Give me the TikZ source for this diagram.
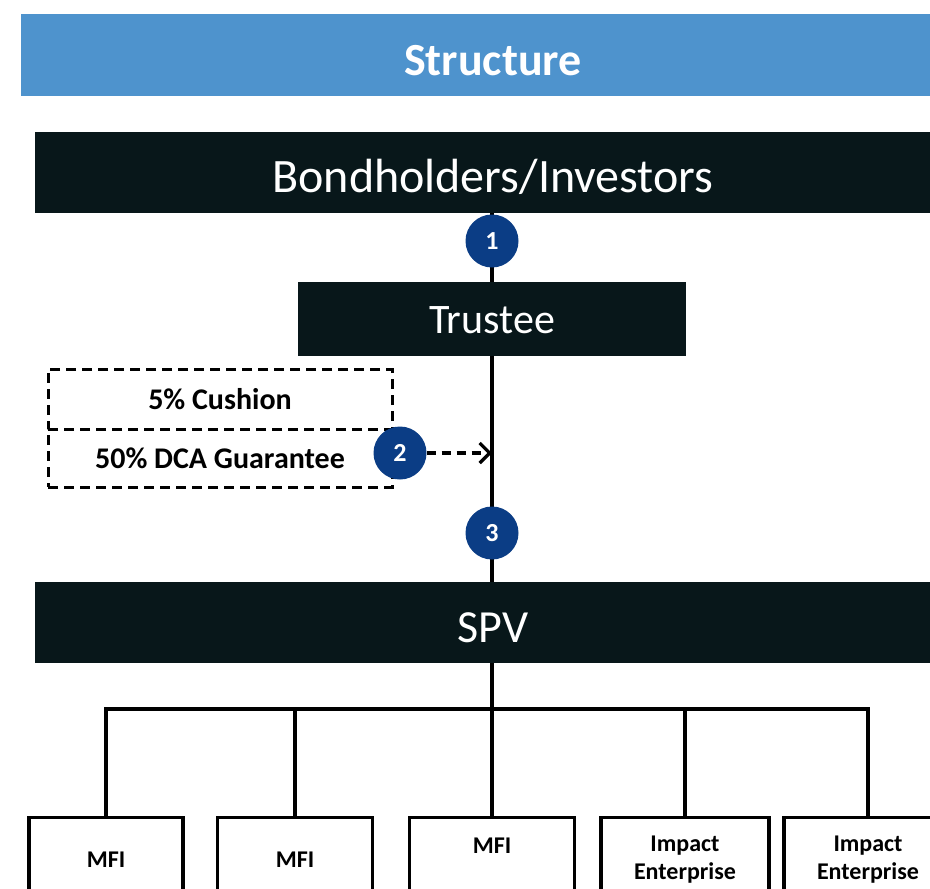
\documentclass[tikz,border=0pt]{standalone}
\usepackage{fontspec}
\setmainfont{Carlito}
\usetikzlibrary{arrows.meta}
\definecolor{barblue}{HTML}{4E93CD}
\definecolor{boxdark}{HTML}{08171A}
\definecolor{stepblue}{HTML}{0B3D85}
% text set on a baseline lowered by #1 below the node centre
\newcommand{\lowered}[2]{\raisebox{-#1}[0pt][0pt]{#2}}
\tikzset{
  x=1pt, y=-1pt,
  titlebar/.style={fill=barblue, text=white, font=\bfseries\fontsize{46}{50}\selectfont,
    minimum width=944, minimum height=82, inner sep=0},
  darkbar/.style={fill=boxdark, text=white, inner sep=0},
  numdot/.style={circle, fill=stepblue, text=white, minimum size=53, inner sep=0,
    font=\bfseries\fontsize{26}{28}\selectfont},
  dashbox/.style={draw=black, dashed, dash pattern=on 10pt off 6pt, line width=3pt,
    minimum width=344, inner sep=0, font=\bfseries\fontsize{30}{32}\selectfont},
  leafbox/.style={draw=black, line width=3.2pt, anchor=north, minimum height=84,
    inner sep=0, align=center, font=\bfseries\fontsize{24}{28}\selectfont},
  link/.style={draw=black, line width=3.2pt}
}
\begin{document}
\begin{tikzpicture}
\useasboundingbox (0,0) rectangle (930,889);
\clip (0,0) rectangle (930,889);

% header and main parties
\node[titlebar] (title) at (493,55) {\lowered{20pt}{Structure}};
\node[darkbar, minimum width=916, minimum height=81,
      font=\fontsize{48}{52}\selectfont] (bond) at (493,172.5) {\lowered{19.5pt}{Bondholders/Investors}};
\node[darkbar, minimum width=388, minimum height=74,
      font=\fontsize{42}{46}\selectfont] (trustee) at (492,319) {\lowered{14pt}{Trustee}};
\node[darkbar, minimum width=916, minimum height=81,
      font=\fontsize{46}{50}\selectfont] (spv) at (493,622.5) {\lowered{19.5pt}{SPV}};

% credit enhancement
\node[dashbox, minimum height=60] (cushion) at (220,399) {5\% Cushion};
\node[dashbox, minimum height=58] (dca) at (220,458) {50\% DCA Guarantee};

% borrowers
\node[leafbox, minimum width=154] (m1) at (106,816) {MFI};
\node[leafbox, minimum width=155] (m2) at (295,816) {MFI};
\node[leafbox, minimum width=165] (m3) at (492,816) {MFI\\~};
\node[leafbox, minimum width=168] (ie1) at (685,816) {Impact\\Enterprise};
\node[leafbox, minimum width=168] (ie2) at (868,816) {Impact\\Enterprise};

% flow of funds
\coordinate (bus) at (492,709);
\coordinate (tap) at (492,453);
\draw[link] ([xshift=-1pt]bond.south) -- (trustee.north);
\draw[link] (trustee.south) -- ([xshift=-1pt]spv.north);
\draw[link] ([xshift=-1pt]spv.south) -- (bus);
\draw[link] (m1.north) |- (bus) -| (ie2.north);
\draw[link] (m2.north) -- (m2.north |- bus);
\draw[link] (m3.north) -- (bus);
\draw[link] (ie1.north) -- (ie1.north |- bus);

% numbered steps
\node[numdot] (s1) at (492,241) {1};
\node[numdot] (s2) at (400,453) {2};
\node[numdot] (s3) at (492,533) {3};
\draw[link, dashed, dash pattern=on 9pt off 6pt, -{Straight Barb[length=10pt,width=20pt,line width=3.2pt]}] (s2.east) -- (tap);
\end{tikzpicture}
\end{document}
